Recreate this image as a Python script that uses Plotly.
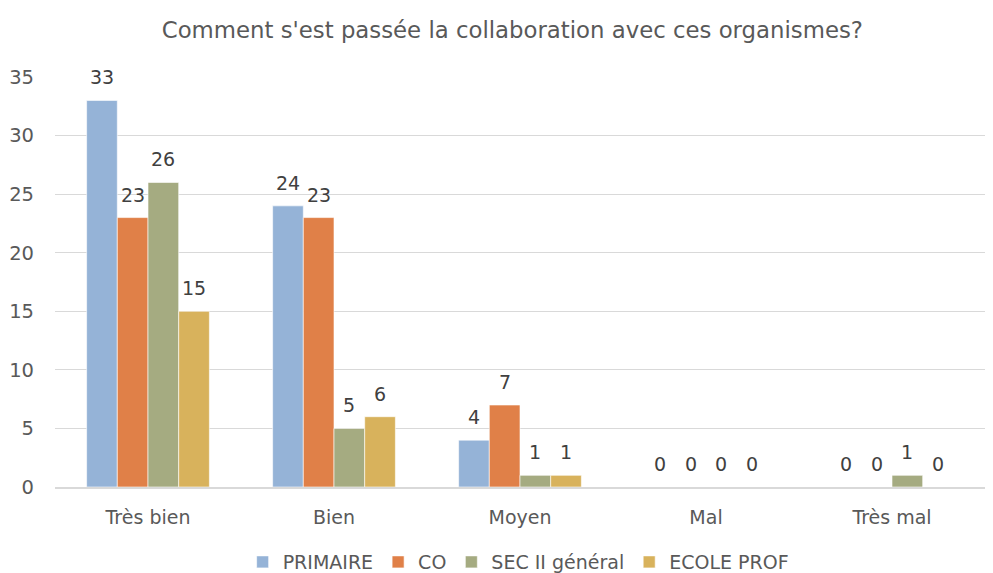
import plotly.graph_objects as go

categories = ["Très bien", "Bien", "Moyen", "Mal", "Très mal"]
series_names = ["PRIMAIRE", "CO", "SEC II général", "ECOLE PROF"]
primaire = [33, 24, 4, 0, 0]
co = [23, 23, 7, 0, 0]
sec2 = [26, 5, 1, 0, 1]
ecole_prof = [15, 6, 1, 0, 0]
colors = ["#95B3D7", "#E08048", "#A5AB81", "#D8B25C"]

FONT = "DejaVu Sans"
BARGAP = 0.34
all_series = [primaire, co, sec2, ecole_prof]

fig = go.Figure()
for name, vals, col in zip(series_names, all_series, colors):
    fig.add_trace(go.Bar(
        x=categories, y=vals, name=name,
        marker=dict(color=col, line=dict(color="white", width=0.6)),
    ))

# data labels, placed above each bar (offset within the group derived from bargap)
n = len(all_series)
bw = (1 - BARGAP) / n
for j, vals in enumerate(all_series):
    for i, v in enumerate(vals):
        fig.add_annotation(
            x=i + (j - (n - 1) / 2) * bw, y=v, xref="x", yref="y",
            text=str(v), showarrow=False, yanchor="bottom", yshift=10,
            font=dict(family=FONT, size=19, color="#404040"),
        )

fig.update_layout(
    width=985, height=565,
    paper_bgcolor="white", plot_bgcolor="white",
    barmode="group", bargap=BARGAP, bargroupgap=0,
    margin=dict(l=47, r=8, t=69, b=86, autoexpand=False),
    title=dict(text="Comment s'est passée la collaboration avec ces organismes?",
               x=0.512, xanchor="center", y=0.961, yanchor="middle",
               font=dict(family=FONT, size=22.8, color="#595959")),
    font=dict(family=FONT, size=19, color="#595959"),
    legend=dict(orientation="h", x=0.498, xanchor="center", y=-0.183, yanchor="middle",
                font=dict(family=FONT, size=19, color="#595959"),
                itemwidth=30, tracegroupgap=0),
    showlegend=True,
)
fig.update_yaxes(range=[0, 35], dtick=5, showgrid=True, gridcolor="#D9D9D9", gridwidth=1,
                 zeroline=False, showline=False, ticks="", ticklabelstandoff=20,
                 automargin=False,
                 tickfont=dict(family=FONT, size=19.5, color="#595959"))
fig.update_xaxes(showline=True, linecolor="#D9D9D9", linewidth=1.5, ticks="",
                 automargin=False,
                 tickfont=dict(family=FONT, size=19, color="#595959"), ticklabelstandoff=12)

fig.write_html("out.html")
